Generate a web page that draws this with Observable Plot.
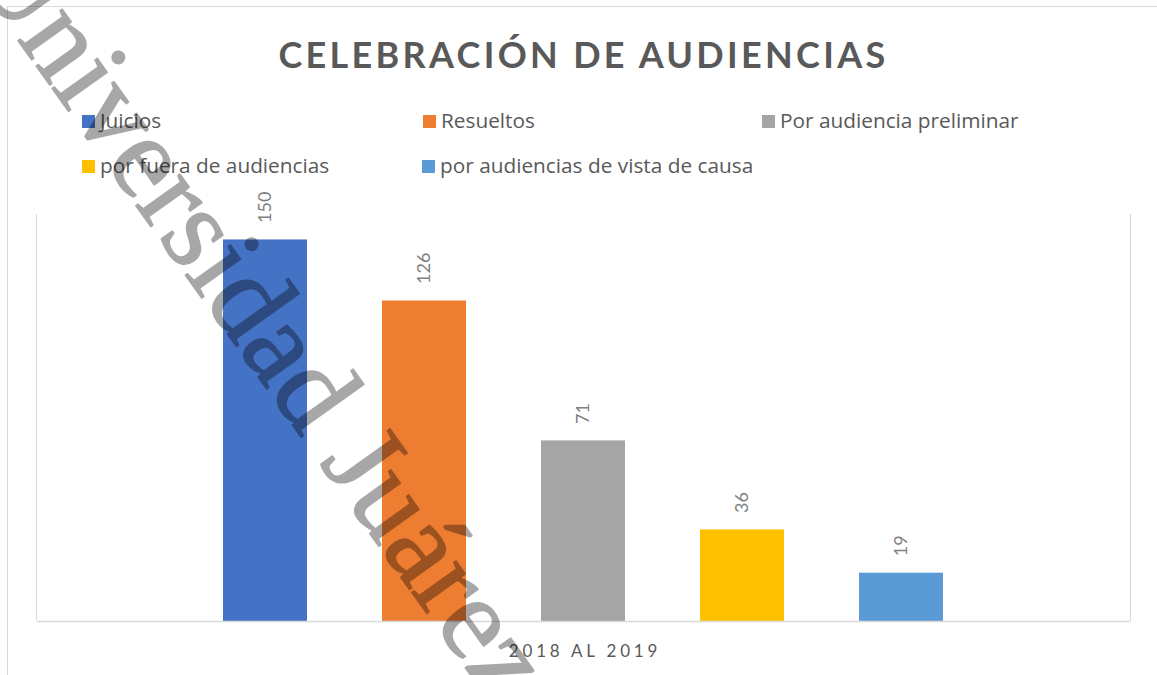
<!DOCTYPE html>
<html>
<head>
<meta charset="utf-8">
<script src="https://cdn.jsdelivr.net/npm/d3@7"></script>
<script src="https://cdn.jsdelivr.net/npm/@observablehq/plot@0.6"></script>
<style>
  html, body { margin: 0; padding: 0; background: #fff; }
  #wrap { position: relative; width: 1157px; height: 675px; overflow: hidden; font-family: Lato, "Open Sans", sans-serif; }
  .abs { position: absolute; }
  #outer { left: 7px; top: 6px; width: 1300px; height: 800px; border: 1.5px solid #d9d9d9; box-sizing: border-box; }
  #title { left: 0; top: 36px; width: 1167px; text-align: center; font-size: 36px; line-height: 36px; font-weight: 700; color: #595959; letter-spacing: 3.3px; white-space: nowrap; }
  .leg { font-family: "Open Sans", Lato, sans-serif; font-size: 20.8px; line-height: 20.8px; color: #595959; white-space: nowrap; }
  .sw { width: 13px; height: 13px; }
  #sides { left: 36px; top: 214px; width: 1095px; height: 407px; border-left: 1.5px solid #d9d9d9; border-right: 1.5px solid #d9d9d9; box-sizing: border-box; }
  #chart { left: 0; top: 200px; }
  #xlab { left: 0; top: 642px; width: 1170px; text-align: center; font-size: 17px; line-height: 17px; color: #595959; letter-spacing: 3.8px; white-space: nowrap; }
  #wm { left: 0; top: 0; pointer-events: none; }
</style>
</head>
<body>
<div id="wrap">
  <div id="outer" class="abs"></div>
  <div id="title" class="abs"></div>
  <div id="legend"></div>
  <div id="sides" class="abs"></div>
  <div id="chart" class="abs"></div>
  <div id="xlab" class="abs"></div>
  <svg id="wm" class="abs" width="1157" height="675"></svg>
</div>
<script>
// ---- data ----
const titulo = "CELEBRACIÓN DE AUDIENCIAS";
const periodo = "2018 AL 2019";
const categorias = ["Juicios", "Resueltos", "Por audiencia preliminar", "por fuera de audiencias", "por audiencias de vista de causa"];
const valores = [150, 126, 71, 36, 19];
const colores = ["#4472c4", "#ed7d31", "#a5a5a5", "#ffc000", "#5b9bd5"];
const marcaDeAgua = "Universidad Juárez";

const data = categorias.map((c, i) => ({cat: c, val: valores[i]}));

document.getElementById("title").textContent = titulo;
document.getElementById("xlab").textContent = periodo;

// legend (two rows, three columns)
const legPos = [[82, 115], [423, 115], [762, 115], [82, 160], [422, 160]];
const legend = document.getElementById("legend");
categorias.forEach((c, i) => {
  const [lx, ly] = legPos[i];
  const sw = document.createElement("div");
  sw.className = "abs sw";
  sw.style.left = lx + "px";
  sw.style.top = ly + "px";
  sw.style.background = colores[i];
  legend.appendChild(sw);
  const t = document.createElement("div");
  t.className = "abs leg";
  t.style.left = (lx + 18) + "px";
  t.style.top = (ly - 5) + "px";
  t.textContent = c;
  legend.appendChild(t);
});

const chart = Plot.plot({
  width: 1157,
  height: 475,
  marginLeft: 37,
  marginRight: 27,
  marginTop: 14,
  marginBottom: 54,
  style: {background: "transparent", overflow: "visible"},
  x: {type: "band", domain: categorias, paddingInner: 0.47, paddingOuter: 1.17, align: 0.5, axis: null},
  y: {domain: [0, 160], axis: null},
  color: {domain: categorias, range: colores},
  marks: [
    Plot.barY(data, {x: "cat", y: "val", fill: "cat"}),
    Plot.ruleY([0], {stroke: "#d9d9d9", strokeWidth: 1.5}),
    Plot.text(data, {
      x: "cat", y: "val", text: d => String(d.val),
      rotate: -90, textAnchor: "start", lineAnchor: "middle",
      dy: -17, fill: "#808080", fontSize: 18, fontFamily: "Lato, 'Open Sans', sans-serif"
    })
  ]
});
document.getElementById("chart").appendChild(chart);

// watermark
const wm = d3.select("#wm");
wm.append("text")
  .attr("x", -33).attr("y", -31)
  .attr("transform", "rotate(54.5 -33 -31)")
  .attr("font-family", "'Liberation Serif', 'DejaVu Serif', serif")
  .attr("font-size", 118)
  .attr("fill", "#000")
  .attr("stroke", "#000")
  .attr("stroke-width", 1.6)
  .attr("stroke-linejoin", "round")
  .attr("opacity", 0.34)
  .text(marcaDeAgua);
</script>
</body>
</html>
